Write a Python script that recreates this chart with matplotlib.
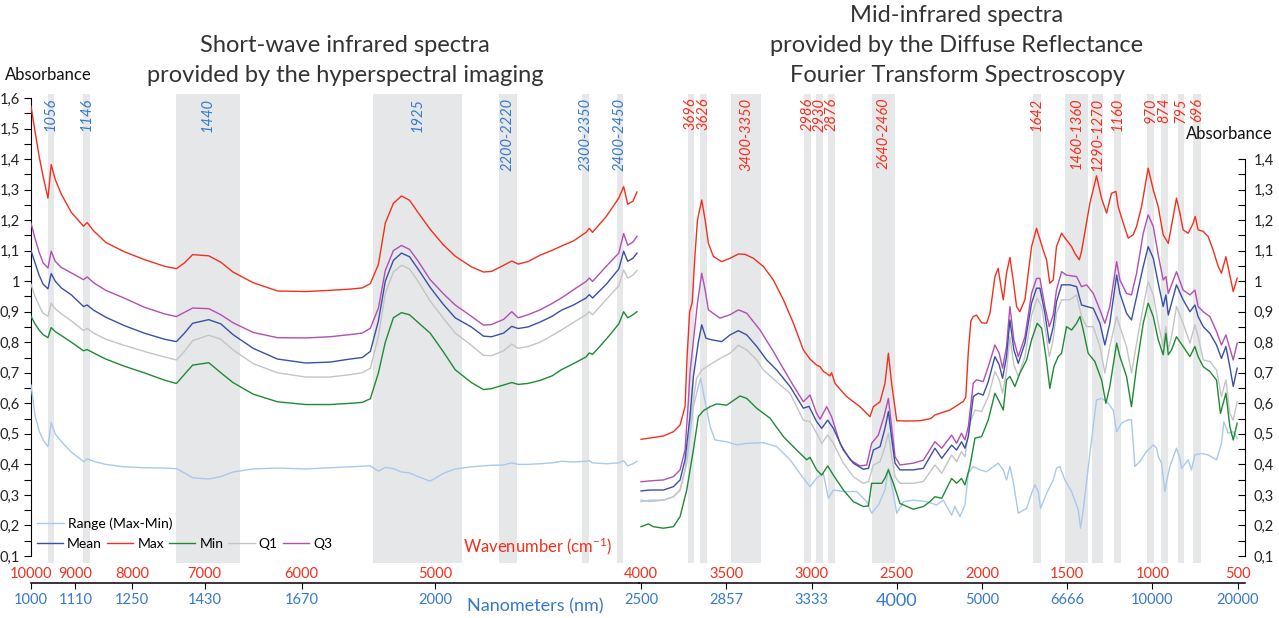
import matplotlib
matplotlib.use("Agg")
import matplotlib.pyplot as plt
import numpy as np
from matplotlib.ticker import FixedLocator, FuncFormatter

plt.rcParams["font.family"] = ["Lato", "DejaVu Sans"]
plt.rcParams["mathtext.default"] = "regular"

# ---- SWIR panel (hyperspectral imaging), x in nanometres --------------------
SWIR_NM = [1000, 1010, 1020, 1030, 1042, 1050, 1060, 1075, 1100, 1130,
           1139, 1155, 1185, 1230, 1280, 1330, 1360, 1380, 1400, 1440,
           1470, 1500, 1550, 1610, 1680, 1740, 1790, 1820, 1840, 1860,
           1877, 1897, 1917, 1937, 1958, 1988, 2020, 2050, 2090, 2120,
           2140, 2170, 2190, 2206, 2230, 2260, 2290, 2313, 2343, 2374,
           2382, 2390, 2424, 2455, 2467, 2477, 2490, 2500]
SWIR_MAX = [1.573, 1.49, 1.41, 1.343, 1.272, 1.382, 1.333, 1.285, 1.225, 1.180,
            1.192, 1.165, 1.127, 1.097, 1.071, 1.049, 1.041, 1.060, 1.087, 1.083,
            1.062, 1.030, 0.995, 0.968, 0.966, 0.970, 0.974, 0.978, 0.992, 1.055,
            1.19, 1.255, 1.279, 1.265, 1.225, 1.170, 1.120, 1.082, 1.047, 1.030,
            1.032, 1.052, 1.066, 1.056, 1.064, 1.085, 1.101, 1.115, 1.132, 1.160,
            1.173, 1.160, 1.212, 1.272, 1.310, 1.252, 1.262, 1.292]
SWIR_Q3 = [1.19, 1.14, 1.095, 1.06, 1.043, 1.098, 1.065, 1.045, 1.027, 1.005,
           1.014, 0.995, 0.970, 0.945, 0.915, 0.893, 0.884, 0.898, 0.912, 0.910,
           0.890, 0.864, 0.832, 0.815, 0.814, 0.818, 0.825, 0.830, 0.846, 0.912,
           1.035, 1.100, 1.117, 1.104, 1.066, 1.005, 0.960, 0.922, 0.885, 0.856,
           0.858, 0.875, 0.900, 0.880, 0.890, 0.906, 0.927, 0.945, 0.972, 0.999,
           1.010, 0.999, 1.049, 1.092, 1.156, 1.118, 1.128, 1.147]
SWIR_MEAN = [1.10, 1.06, 1.02, 0.99, 0.975, 1.025, 1.000, 0.978, 0.955, 0.917,
             0.922, 0.905, 0.882, 0.855, 0.830, 0.810, 0.802, 0.830, 0.862, 0.874,
             0.860, 0.825, 0.780, 0.745, 0.732, 0.735, 0.745, 0.750, 0.770, 0.870,
             1.000, 1.068, 1.092, 1.080, 1.040, 0.980, 0.925, 0.880, 0.850, 0.820,
             0.818, 0.830, 0.852, 0.845, 0.850, 0.866, 0.885, 0.905, 0.922, 0.945,
             0.956, 0.945, 0.990, 1.040, 1.098, 1.065, 1.075, 1.092]
SWIR_Q1 = [0.99, 0.95, 0.92, 0.895, 0.885, 0.928, 0.910, 0.893, 0.870, 0.838,
           0.845, 0.830, 0.810, 0.790, 0.770, 0.752, 0.742, 0.770, 0.805, 0.823,
           0.810, 0.775, 0.730, 0.700, 0.686, 0.686, 0.694, 0.700, 0.715, 0.820,
           0.960, 1.030, 1.052, 1.040, 1.000, 0.935, 0.880, 0.830, 0.790, 0.757,
           0.756, 0.772, 0.794, 0.780, 0.786, 0.800, 0.822, 0.840, 0.865, 0.890,
           0.900, 0.890, 0.940, 0.985, 1.037, 1.010, 1.020, 1.035]
SWIR_MIN = [0.885, 0.86, 0.84, 0.825, 0.815, 0.848, 0.835, 0.822, 0.800, 0.772,
            0.776, 0.765, 0.745, 0.722, 0.700, 0.676, 0.665, 0.695, 0.725, 0.733,
            0.700, 0.668, 0.630, 0.605, 0.596, 0.596, 0.600, 0.603, 0.615, 0.700,
            0.800, 0.880, 0.897, 0.890, 0.865, 0.830, 0.770, 0.710, 0.668, 0.645,
            0.648, 0.660, 0.668, 0.662, 0.665, 0.675, 0.690, 0.710, 0.730, 0.752,
            0.765, 0.760, 0.810, 0.860, 0.900, 0.880, 0.890, 0.900]
SWIR_RANGE = [0.66, 0.56, 0.51, 0.48, 0.458, 0.537, 0.50, 0.475, 0.440, 0.409,
              0.418, 0.410, 0.400, 0.392, 0.389, 0.388, 0.386, 0.372, 0.356, 0.352,
              0.360, 0.375, 0.385, 0.388, 0.385, 0.389, 0.392, 0.394, 0.395, 0.378,
              0.390, 0.386, 0.375, 0.372, 0.360, 0.345, 0.370, 0.385, 0.392, 0.395,
              0.397, 0.398, 0.405, 0.400, 0.400, 0.402, 0.405, 0.410, 0.408, 0.410,
              0.412, 0.405, 0.402, 0.405, 0.412, 0.395, 0.402, 0.410]

SWIR_BANDS = [(1042, 1057), (1129, 1146), (1359, 1517), (1847, 2067),
              (2158, 2203), (2364, 2381), (2450, 2465)]
SWIR_BAND_LABELS = ["1056", "1146", "1440", "1925", "2200-2220", "2300-2350", "2400-2450"]
# the shared 4000 cm-1 / 2500 nm tick at the panel join is labelled by the MIR panel
SWIR_TICKS = [1000, 1110, 1250, 1430, 1670, 2000]
SWIR_WN_LABELS = ["10000", "9000", "8000", "7000", "6000", "5000"]
SWIR_NM_LABELS = ["1000", "1110", "1250", "1430", "1670", "2000"]

# ---- MIR panel (DRIFTS), x in wavenumber (cm-1) ----------------------------
MIR_MAX = [(4000, 0.482), (3869, 0.493), (3810, 0.507), (3771, 0.529), (3742, 0.589),
           (3730, 0.75), (3715, 0.90), (3700, 0.93), (3683, 1.091), (3669, 1.20),
           (3644, 1.266), (3624, 1.20), (3605, 1.124), (3576, 1.081), (3527, 1.064),
           (3478, 1.075), (3429, 1.089), (3390, 1.088), (3341, 1.075), (3282, 1.048),
           (3224, 1.004), (3165, 0.939), (3106, 0.862), (3048, 0.775), (3009, 0.745),
           (2970, 0.725), (2950, 0.72), (2931, 0.705), (2892, 0.69), (2882, 0.70),
           (2862, 0.665), (2794, 0.622), (2716, 0.589), (2657, 0.556), (2637, 0.589),
           (2598, 0.605), (2569, 0.665), (2549, 0.764), (2530, 0.665), (2500, 0.543),
           (2442, 0.542), (2364, 0.543), (2300, 0.55), (2276, 0.562), (2188, 0.578),
           (2110, 0.606), (2095, 0.62), (2080, 0.77), (2065, 0.87), (2051, 0.884),
           (2032, 0.889), (2002, 0.864), (1973, 0.862), (1953, 0.895), (1924, 1.015),
           (1905, 1.042), (1885, 0.971), (1875, 0.939), (1856, 1.026), (1836, 1.078),
           (1817, 1.004), (1797, 0.917), (1778, 0.900), (1748, 0.939), (1709, 1.113),
           (1680, 1.173), (1641, 1.102), (1621, 1.070), (1602, 0.993), (1582, 1.004),
           (1563, 1.113), (1533, 1.157), (1504, 1.135), (1474, 1.113), (1455, 1.091),
           (1429, 1.070), (1416, 1.097), (1367, 1.255), (1328, 1.345), (1299, 1.272),
           (1269, 1.223), (1240, 1.288), (1214, 1.294), (1201, 1.244), (1171, 1.190),
           (1142, 1.141), (1113, 1.152), (1093, 1.179), (1064, 1.244), (1025, 1.370),
           (995, 1.299), (966, 1.244), (937, 1.152), (907, 1.124), (878, 1.212),
           (859, 1.272), (839, 1.223), (820, 1.168), (790, 1.157), (761, 1.190),
           (749, 1.212), (732, 1.168), (702, 1.163), (673, 1.146), (644, 1.102),
           (614, 1.048), (595, 1.026), (569, 1.080), (546, 1.020), (526, 0.966),
           (503, 1.010)]
MIR_Q3 = [(4000, 0.343), (3947, 0.346), (3869, 0.349), (3810, 0.360), (3771, 0.382),
          (3742, 0.447), (3722, 0.611), (3713, 0.70), (3690, 0.82), (3669, 0.928),
          (3644, 1.026), (3624, 0.971), (3605, 0.906), (3537, 0.879), (3478, 0.890),
          (3429, 0.906), (3380, 0.895), (3302, 0.840), (3224, 0.770), (3126, 0.676),
          (3048, 0.605), (3009, 0.627), (2970, 0.567), (2950, 0.548), (2911, 0.589),
          (2882, 0.556), (2833, 0.469), (2774, 0.415), (2716, 0.395), (2676, 0.398),
          (2647, 0.469), (2608, 0.496), (2575, 0.556), (2549, 0.616), (2530, 0.523),
          (2510, 0.425), (2481, 0.398), (2403, 0.404), (2344, 0.414), (2276, 0.474),
          (2236, 0.453), (2178, 0.496), (2149, 0.469), (2120, 0.502), (2100, 0.480),
          (2080, 0.524), (2051, 0.666), (2032, 0.677), (1993, 0.671), (1963, 0.720),
          (1924, 0.791), (1899, 0.764), (1879, 0.715), (1856, 0.786), (1836, 0.917),
          (1813, 0.808), (1787, 0.753), (1748, 0.818), (1709, 0.960), (1680, 1.009),
          (1660, 1.009), (1631, 0.917), (1605, 0.851), (1582, 0.889), (1563, 0.971),
          (1533, 1.031), (1504, 1.020), (1445, 1.015), (1416, 0.982), (1386, 0.988),
          (1347, 0.960), (1308, 0.906), (1279, 0.862), (1250, 0.917), (1210, 1.064),
          (1191, 1.004), (1152, 0.960), (1123, 0.955), (1093, 1.026), (1054, 1.157),
          (1025, 1.217), (995, 1.179), (966, 1.086), (937, 1.004), (921, 1.015),
          (907, 0.960), (888, 0.988), (859, 1.031), (820, 0.971), (780, 0.955),
          (751, 0.971), (732, 0.917), (702, 0.900), (663, 0.884), (624, 0.835),
          (595, 0.791), (569, 0.824), (546, 0.780), (526, 0.742), (503, 0.797)]
MIR_MEAN = [(4000, 0.313), (3947, 0.316), (3869, 0.316), (3810, 0.327), (3771, 0.349),
            (3742, 0.415), (3713, 0.556), (3693, 0.687), (3664, 0.80), (3644, 0.857),
            (3619, 0.813), (3585, 0.808), (3527, 0.802), (3478, 0.824), (3429, 0.838),
            (3380, 0.824), (3321, 0.786), (3263, 0.742), (3204, 0.709), (3126, 0.655),
            (3048, 0.584), (3015, 0.590), (2970, 0.540), (2940, 0.518), (2905, 0.545),
            (2872, 0.518), (2813, 0.447), (2755, 0.404), (2696, 0.384), (2666, 0.387),
            (2637, 0.447), (2598, 0.458), (2569, 0.518), (2549, 0.573), (2530, 0.485),
            (2510, 0.404), (2481, 0.382), (2403, 0.382), (2344, 0.387), (2276, 0.453),
            (2236, 0.420), (2178, 0.463), (2149, 0.447), (2120, 0.474), (2100, 0.453),
            (2080, 0.491), (2051, 0.622), (2022, 0.633), (1993, 0.627), (1963, 0.671),
            (1924, 0.753), (1899, 0.726), (1879, 0.682), (1856, 0.753), (1836, 0.873),
            (1813, 0.775), (1787, 0.731), (1748, 0.797), (1709, 0.928), (1680, 0.977),
            (1660, 0.977), (1631, 0.895), (1605, 0.797), (1582, 0.851), (1563, 0.933),
            (1533, 0.988), (1484, 0.988), (1445, 0.982), (1416, 0.922), (1386, 0.917),
            (1347, 0.911), (1308, 0.862), (1279, 0.791), (1250, 0.862), (1210, 1.020),
            (1191, 0.960), (1152, 0.895), (1123, 0.873), (1093, 0.949), (1054, 1.048),
            (1025, 1.113), (995, 1.075), (966, 0.993), (937, 0.917), (921, 0.955),
            (907, 0.889), (888, 0.928), (859, 0.988), (820, 0.939), (780, 0.900),
            (751, 0.922), (732, 0.884), (702, 0.851), (663, 0.829), (624, 0.791),
            (595, 0.747), (569, 0.786), (546, 0.720), (526, 0.655), (503, 0.715)]
MIR_Q1 = [(4000, 0.278), (3947, 0.283), (3869, 0.283), (3810, 0.294), (3771, 0.316),
          (3742, 0.382), (3713, 0.524), (3693, 0.611), (3674, 0.682), (3644, 0.709),
          (3615, 0.720), (3566, 0.737), (3517, 0.753), (3478, 0.764), (3429, 0.790),
          (3380, 0.775), (3321, 0.742), (3282, 0.709), (3204, 0.670), (3126, 0.633),
          (3048, 0.545), (3009, 0.540), (2970, 0.502), (2940, 0.469), (2905, 0.496),
          (2872, 0.469), (2813, 0.404), (2755, 0.360), (2696, 0.338), (2666, 0.344),
          (2637, 0.398), (2598, 0.409), (2569, 0.458), (2549, 0.502), (2530, 0.425),
          (2510, 0.360), (2481, 0.338), (2403, 0.338), (2344, 0.344), (2276, 0.398),
          (2236, 0.371), (2178, 0.431), (2149, 0.409), (2120, 0.442), (2100, 0.425),
          (2071, 0.535), (2041, 0.578), (2002, 0.573), (1963, 0.622), (1924, 0.704),
          (1899, 0.677), (1879, 0.633), (1856, 0.704), (1836, 0.818), (1813, 0.726),
          (1787, 0.688), (1748, 0.753), (1709, 0.889), (1676, 0.944), (1650, 0.917),
          (1625, 0.829), (1605, 0.753), (1582, 0.808), (1563, 0.895), (1533, 0.939),
          (1484, 0.939), (1445, 0.955), (1416, 0.884), (1386, 0.851), (1347, 0.851),
          (1308, 0.786), (1279, 0.699), (1250, 0.786), (1210, 0.884), (1191, 0.851),
          (1152, 0.786), (1123, 0.699), (1093, 0.797), (1054, 0.917), (1025, 0.998),
          (995, 0.955), (966, 0.862), (937, 0.786), (921, 0.851), (907, 0.775),
          (888, 0.819), (859, 0.917), (820, 0.862), (780, 0.797), (751, 0.857),
          (732, 0.819), (702, 0.742), (663, 0.737), (624, 0.709), (595, 0.622),
          (569, 0.677), (546, 0.567), (526, 0.545), (503, 0.605)]
MIR_MIN = [(4000, 0.196), (3957, 0.205), (3928, 0.196), (3869, 0.191), (3810, 0.196),
           (3771, 0.229), (3732, 0.316), (3693, 0.447), (3664, 0.556), (3634, 0.576),
           (3595, 0.589), (3556, 0.598), (3498, 0.594), (3419, 0.624), (3380, 0.616),
           (3322, 0.584), (3243, 0.551), (3165, 0.491), (3087, 0.447), (3028, 0.415),
           (3009, 0.423), (2970, 0.382), (2940, 0.365), (2905, 0.395), (2872, 0.365),
           (2813, 0.316), (2755, 0.278), (2696, 0.262), (2666, 0.264), (2647, 0.338),
           (2588, 0.338), (2569, 0.355), (2549, 0.382), (2520, 0.338), (2481, 0.272),
           (2403, 0.253), (2344, 0.262), (2305, 0.278), (2276, 0.294), (2236, 0.289),
           (2178, 0.354), (2149, 0.338), (2120, 0.354), (2100, 0.333), (2071, 0.393),
           (2041, 0.486), (2002, 0.491), (1963, 0.546), (1924, 0.633), (1899, 0.606),
           (1875, 0.578), (1856, 0.677), (1836, 0.688), (1807, 0.655), (1778, 0.698),
           (1738, 0.742), (1709, 0.808), (1676, 0.862), (1650, 0.846), (1625, 0.753),
           (1602, 0.649), (1578, 0.720), (1553, 0.753), (1533, 0.764), (1504, 0.851),
           (1474, 0.840), (1445, 0.862), (1425, 0.884), (1406, 0.840), (1377, 0.764),
           (1338, 0.737), (1298, 0.676), (1273, 0.600), (1250, 0.655), (1210, 0.797),
           (1191, 0.753), (1152, 0.688), (1123, 0.589), (1093, 0.720), (1054, 0.862),
           (1025, 0.928), (995, 0.884), (966, 0.808), (937, 0.759), (921, 0.829),
           (907, 0.759), (888, 0.775), (859, 0.818), (820, 0.786), (780, 0.753),
           (751, 0.786), (732, 0.753), (702, 0.720), (663, 0.704), (624, 0.676),
           (601, 0.567), (569, 0.633), (546, 0.524), (526, 0.480), (503, 0.535)]
MIR_RANGE = [(4000, 0.283), (3947, 0.278), (3869, 0.283), (3810, 0.294), (3771, 0.316),
             (3732, 0.404), (3693, 0.589), (3664, 0.655), (3650, 0.682), (3634, 0.633),
             (3595, 0.524), (3566, 0.480), (3498, 0.474), (3439, 0.464), (3380, 0.469),
             (3282, 0.471), (3204, 0.458), (3126, 0.415), (3048, 0.355), (3009, 0.327),
             (2970, 0.355), (2931, 0.371), (2901, 0.289), (2872, 0.316), (2813, 0.311),
             (2735, 0.311), (2676, 0.278), (2647, 0.240), (2608, 0.267), (2569, 0.316),
             (2549, 0.387), (2520, 0.305), (2500, 0.240), (2461, 0.278), (2403, 0.283),
             (2325, 0.278), (2266, 0.267), (2227, 0.283), (2178, 0.234), (2159, 0.262),
             (2129, 0.229), (2100, 0.267), (2080, 0.371), (2051, 0.393), (2012, 0.382),
             (1973, 0.376), (1905, 0.404), (1875, 0.382), (1856, 0.349), (1836, 0.393),
             (1817, 0.344), (1787, 0.240), (1738, 0.256), (1709, 0.305), (1690, 0.333),
             (1670, 0.311), (1656, 0.256), (1621, 0.305), (1582, 0.349), (1563, 0.387),
             (1543, 0.393), (1514, 0.349), (1474, 0.311), (1435, 0.251), (1422, 0.191),
             (1406, 0.251), (1367, 0.436), (1328, 0.611), (1299, 0.616), (1269, 0.606),
             (1230, 0.578), (1210, 0.507), (1181, 0.535), (1142, 0.546), (1123, 0.546),
             (1103, 0.393), (1074, 0.409), (1035, 0.442), (995, 0.464), (976, 0.453),
             (966, 0.426), (947, 0.404), (927, 0.311), (917, 0.344), (898, 0.393),
             (859, 0.453), (839, 0.420), (829, 0.387), (790, 0.415), (771, 0.382),
             (751, 0.431), (712, 0.436), (673, 0.431), (624, 0.415), (595, 0.469),
             (581, 0.540), (556, 0.502), (526, 0.507), (503, 0.485)]

MIR_BANDS = [(3691, 3726), (3615, 3656), (3294, 3475), (3002, 3043), (2932, 2973),
             (2862, 2903), (2512, 2646), (1654, 1701), (1378, 1513), (1290, 1355),
             (1185, 1226), (991, 1032), (909, 950), (815, 850), (716, 762)]
MIR_BAND_LABELS = ["3696", "3626", "3400-3350", "2986", "2930", "2876", "2640-2460",
                   "1642", "1460-1360", "1290-1270", "1160", "970", "874", "795", "696"]
MIR_TICKS = [4000, 3500, 3000, 2500, 2000, 1500, 1000, 500]
MIR_NM_LABELS = ["2500", "2857", "3333", "4000", "5000", "6666", "10000", "20000"]

RED = "#f2301d"
BLUE_TXT = "#3679c9"
BAND = "#e6e7e9"
COLORS = {"Range (Max-Min)": "#a9c9ec", "Mean": "#3a4fa6", "Max": "#f2301d",
          "Min": "#1f8a34", "Q1": "#c4c4c4", "Q3": "#b24eb4"}

W, H = 1279, 618
fig = plt.figure(figsize=(W / 100, H / 100), dpi=100)


def box(x0, y0, x1, y1):
    return [x0 / W, 1 - y1 / H, (x1 - x0) / W, (y1 - y0) / H]


def comma(v, pos):
    return "1" if abs(v - 1) < 1e-9 else f"{v:.1f}".replace(".", ",")


ax_l = fig.add_axes(box(31, 94, 639, 563))
ax_r = fig.add_axes(box(639, 94, 1245, 563))
YLIM = (0.077, 1.613)

for ax in (ax_l, ax_r):
    ax.patch.set_visible(False)
    ax.set_ylim(*YLIM)
    for s in ("top", "bottom", "left", "right"):
        ax.spines[s].set_visible(False)

ax_l.set_xlim(1000, 2505)
ax_r.set_xlim(4012, 457)

# shaded absorption bands + rotated labels
for ax, bands, labels, col in ((ax_l, SWIR_BANDS, SWIR_BAND_LABELS, BLUE_TXT),
                               (ax_r, MIR_BANDS, MIR_BAND_LABELS, RED)):
    for (lo, hi), lab in zip(bands, labels):
        ax.axvspan(lo, hi, color=BAND, lw=0, zorder=0)
        ax.text((lo + hi) / 2, 0.992, lab, transform=ax.get_xaxis_transform(),
                rotation=90, ha="center", va="top", fontsize=10.5,
                style="italic", color=col, zorder=1)

# curves
swir = {"Range (Max-Min)": SWIR_RANGE, "Mean": SWIR_MEAN, "Max": SWIR_MAX,
        "Min": SWIR_MIN, "Q1": SWIR_Q1, "Q3": SWIR_Q3}
mir = {"Range (Max-Min)": MIR_RANGE, "Mean": MIR_MEAN, "Max": MIR_MAX,
       "Min": MIR_MIN, "Q1": MIR_Q1, "Q3": MIR_Q3}
handles = {}
for name in ("Range (Max-Min)", "Q1", "Min", "Q3", "Mean", "Max"):
    ln, = ax_l.plot(SWIR_NM, swir[name], color=COLORS[name], lw=1.0, zorder=3, label=name)
    handles[name] = ln
    wn, val = zip(*mir[name])
    ax_r.plot(wn, val, color=COLORS[name], lw=1.0, zorder=3)

# y axes
ax_l.spines["left"].set_visible(True)
ax_l.spines["left"].set_bounds(0.1, 1.6)
ax_l.yaxis.set_major_locator(FixedLocator(np.round(np.arange(0.1, 1.61, 0.1), 2)))
ax_l.yaxis.set_minor_locator(FixedLocator(np.round(np.arange(0.15, 1.6, 0.1), 2)))
ax_l.yaxis.set_major_formatter(FuncFormatter(comma))
ax_l.tick_params(axis="y", which="both", direction="out", length=5, width=0.8,
                 labelsize=10.5, pad=3, labelcolor="#222222")

ax_r.spines["right"].set_visible(True)
ax_r.spines["right"].set_bounds(0.1, 1.4)
ax_r.yaxis.tick_right()
ax_r.yaxis.set_major_locator(FixedLocator(np.round(np.arange(0.1, 1.41, 0.1), 2)))
ax_r.yaxis.set_minor_locator(FixedLocator(np.round(np.arange(0.15, 1.4, 0.1), 2)))
ax_r.yaxis.set_major_formatter(FuncFormatter(comma))
ax_r.tick_params(axis="y", which="both", direction="in", length=5, width=0.8,
                 labelsize=10.5, pad=6, labelcolor="#222222")

# wavenumber labels (red, no line) + nanometre axis (black line, blue labels)
for ax, ticks, top_labels, nm_labels in ((ax_l, SWIR_TICKS, SWIR_WN_LABELS, SWIR_NM_LABELS),
                                         (ax_r, MIR_TICKS, [str(t) for t in MIR_TICKS], MIR_NM_LABELS)):
    ax.set_xticks(ticks)
    ax.set_xticklabels(top_labels)
    ax.tick_params(axis="x", length=0, pad=3, labelsize=10.5, labelcolor=RED)
    sec = ax.secondary_xaxis(-0.0426)
    sec.set_xticks(ticks)
    sec.set_xticklabels(nm_labels)
    sec.spines["bottom"].set_linewidth(1.1)
    sec.tick_params(axis="x", direction="out", length=4, width=0.8, pad=3,
                    labelsize=10.5, labelcolor=BLUE_TXT)
    for tl in sec.get_xticklabels():
        if ax is ax_r and tl.get_text() == "4000":
            tl.set_fontsize(13)

# legend (two rows)
leg1 = ax_l.legend(handles=[handles["Range (Max-Min)"]], loc="center left",
                   bbox_to_anchor=(0.0, 0.083), frameon=False, fontsize=10,
                   handlelength=2.0, handletextpad=0.3, borderpad=0, borderaxespad=0.4)
ax_l.add_artist(leg1)
ax_l.legend(handles=[handles[k] for k in ("Mean", "Max", "Min", "Q1", "Q3")],
            loc="center left", bbox_to_anchor=(0.0, 0.04), frameon=False,
            fontsize=10, ncol=5, handlelength=1.9, handletextpad=0.3,
            columnspacing=0.35, borderpad=0, borderaxespad=0.4)

ax_l.text(0.711, 0.036, "Wavenumber (cm$^{-1}$)", transform=ax_l.transAxes,
          ha="left", va="center", fontsize=12, color=RED)
fig.text(535 / W, 1 - 606 / H, "Nanometers (nm)", ha="center", va="center",
         fontsize=13, color=BLUE_TXT)

# titles and axis names
TITLE_L = ["Short-wave infrared spectra", "provided by the hyperspectral imaging"]
TITLE_R = ["Mid-infrared spectra", "provided by the Diffuse Reflectance",
           "Fourier Transform Spectroscopy"]
for i, line in enumerate(TITLE_L):
    fig.text(345 / W, 1 - (45 + 30 * i) / H, line, ha="center", va="center",
             fontsize=17, color="#333333")
for i, line in enumerate(TITLE_R):
    fig.text(957 / W, 1 - (15 + 30 * i) / H, line, ha="center", va="center",
             fontsize=17, color="#333333")
fig.text(5 / W, 1 - 75 / H, "Absorbance", ha="left", va="center", fontsize=12, color="#111111")
fig.text(1186 / W, 1 - 134 / H, "Absorbance", ha="left", va="center", fontsize=12, color="#111111")

fig.savefig("out.png", dpi=100)
